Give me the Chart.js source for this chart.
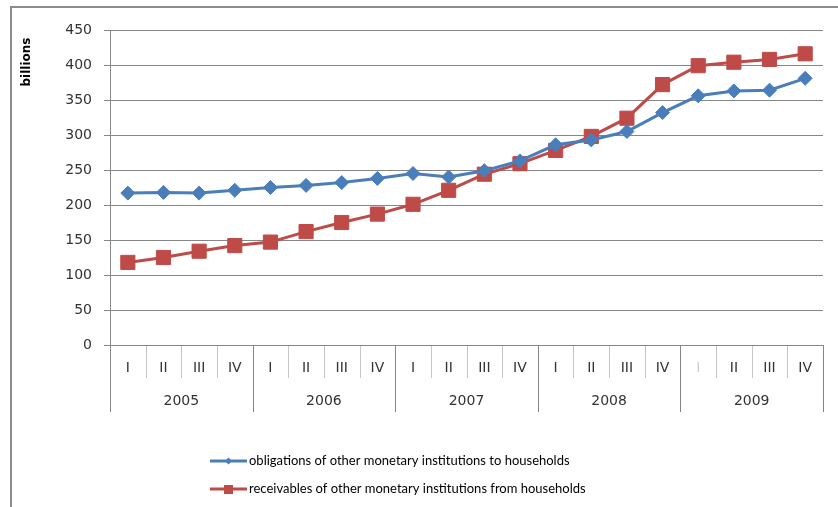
<!DOCTYPE html>
<html>
<head>
<meta charset="utf-8">
<script src="https://cdn.jsdelivr.net/npm/chart.js@4/dist/chart.umd.min.js"></script>
<style>
  body { margin: 0; background: #fff; }
  #wrap { width: 838px; height: 507px; }
</style>
</head>
<body>
<div id="wrap"><canvas id="myChart"></canvas></div>
<script>
//*************DATA */
var quarters = ['I','II','III','IV','I','II','III','IV','I','II','III','IV','I','II','III','IV','I','II','III','IV'];
var years = ['2005','2006','2007','2008','2009'];
var obligations = [217, 218, 217, 221, 225, 228, 232, 238, 245, 240, 249, 263, 286, 293, 305, 332, 356, 363, 364, 381];
var receivables = [118, 125, 134, 142, 147, 162, 175, 187, 201, 221, 244, 259, 278, 298, 324, 372, 399, 404, 408, 416];
var yTicks = [0, 50, 100, 150, 200, 250, 300, 350, 400, 450];

var blue = '#4a7ebb';
var red = '#be4b48';
var gridGray = '#868686';
var tickFont = { family: 'DejaVu Sans', size: 14 };

//*************FRAME, SEPARATORS, LEGEND */
var extras = {
  id: 'extras',
  beforeDraw: function(chart) {
    var ctx = chart.ctx;
    ctx.save();
    ctx.fillStyle = '#fff';
    ctx.fillRect(0, 0, chart.width, chart.height);
    // outer frame (left and top edge)
    ctx.strokeStyle = '#8c8c8c';
    ctx.lineWidth = 2;
    ctx.beginPath();
    ctx.moveTo(11, chart.height);
    ctx.lineTo(11, 7);
    ctx.lineTo(chart.width, 7);
    ctx.stroke();
    ctx.restore();
  },
  afterDraw: function(chart) {
    var ctx = chart.ctx;
    var x = chart.scales.x;
    var xy = chart.scales.xYear;
    var area = chart.chartArea;
    var step = (x.getPixelForValue(1) - x.getPixelForValue(0));
    ctx.save();
    ctx.lineWidth = 1;
    // quarter and year separators
    for (var i = 0; i <= quarters.length; i++) {
      var px = Math.round(x.getPixelForValue(i) - step / 2) + 0.5;
      ctx.beginPath();
      if (i % 4 === 0) {
        ctx.strokeStyle = gridGray;
        ctx.moveTo(px, area.bottom);
        ctx.lineTo(px, xy.bottom);
      } else {
        ctx.strokeStyle = '#c4c4c4';
        ctx.moveTo(px, area.bottom + 1);
        ctx.lineTo(px, x.bottom);
      }
      ctx.stroke();
    }
    // axis title
    ctx.fillStyle = '#000';
    ctx.font = 'bold 12px "DejaVu Sans"';
    ctx.textAlign = 'center';
    ctx.textBaseline = 'middle';
    ctx.translate(27, 62);
    ctx.rotate(-Math.PI / 2);
    ctx.fillText('billions', 0, 0);
    ctx.restore();

    // legend
    ctx.save();
    var rows = [461, 489];
    chart.data.datasets.forEach(function(ds, k) {
      var y = rows[k];
      ctx.strokeStyle = ds.borderColor;
      ctx.lineWidth = 3;
      ctx.beginPath();
      ctx.moveTo(210, y);
      ctx.lineTo(247, y);
      ctx.stroke();
      ctx.fillStyle = ds.borderColor;
      if (ds.pointStyle === 'rect') {
        ctx.fillRect(224, y - 4, 9, 9);
      } else {
        ctx.beginPath();
        ctx.moveTo(228.5, y - 3.5);
        ctx.lineTo(232, y);
        ctx.lineTo(228.5, y + 3.5);
        ctx.lineTo(225, y);
        ctx.closePath();
        ctx.fill();
      }
      ctx.fillStyle = '#000';
      ctx.font = '13px Lato';
      ctx.textAlign = 'left';
      ctx.textBaseline = 'middle';
      ctx.fillText(ds.label, 249, y);
    });
    ctx.restore();
  }
};

//*************CHART */
var ctx = document.getElementById('myChart').getContext('2d');
var chart = new Chart(ctx, {
  type: 'line',
  data: {
    labels: quarters,
    datasets: [{
      label: 'obligations of other monetary institutions to households',
      data: obligations,
      borderColor: blue,
      backgroundColor: blue,
      borderWidth: 3,
      pointStyle: 'rectRot',
      pointRadius: 7,
      pointBorderWidth: 1,
      tension: 0
    }, {
      label: 'receivables of other monetary institutions from households',
      data: receivables,
      borderColor: red,
      backgroundColor: red,
      borderWidth: 3,
      pointStyle: 'rect',
      pointRadius: 10,
      pointBorderWidth: 1,
      tension: 0
    }]
  },
  options: {
    responsive: true,
    maintainAspectRatio: false,
    animation: false,
    layout: { padding: { left: 0, right: 15, top: 30, bottom: 95 } },
    plugins: {
      legend: { display: false },
      tooltip: { enabled: false }
    },
    scales: {
      x: {
        type: 'category',
        position: 'bottom',
        weight: 0,
        offset: true,
        grid: { display: false, drawTicks: false },
        border: { display: false },
        ticks: {
          padding: 15,
          maxRotation: 0,
          autoSkip: false,
          font: tickFont,
          color: function(c) { return c.index === 16 ? '#d0d0d0' : '#333'; }
        },
        afterFit: function(scale) { scale.height = 33; }
      },
      xYear: {
        type: 'category',
        position: 'bottom',
        weight: 1,
        labels: years,
        offset: true,
        grid: { display: false, drawTicks: false },
        border: { display: false },
        ticks: { padding: 15, maxRotation: 0, font: tickFont, color: '#333' },
        afterFit: function(scale) { scale.height = 34; }
      },
      y: {
        min: 0,
        max: 450,
        afterBuildTicks: function(scale) {
          scale.ticks = yTicks.map(function(v) { return { value: v }; });
        },
        grid: { color: gridGray, lineWidth: 1, tickLength: 6 },
        border: { display: true, color: gridGray, width: 1 },
        ticks: { padding: 12, font: tickFont, color: '#333' },
        afterFit: function(scale) { scale.width = 110; }
      }
    }
  },
  plugins: [extras]
});
</script>
</body>
</html>
